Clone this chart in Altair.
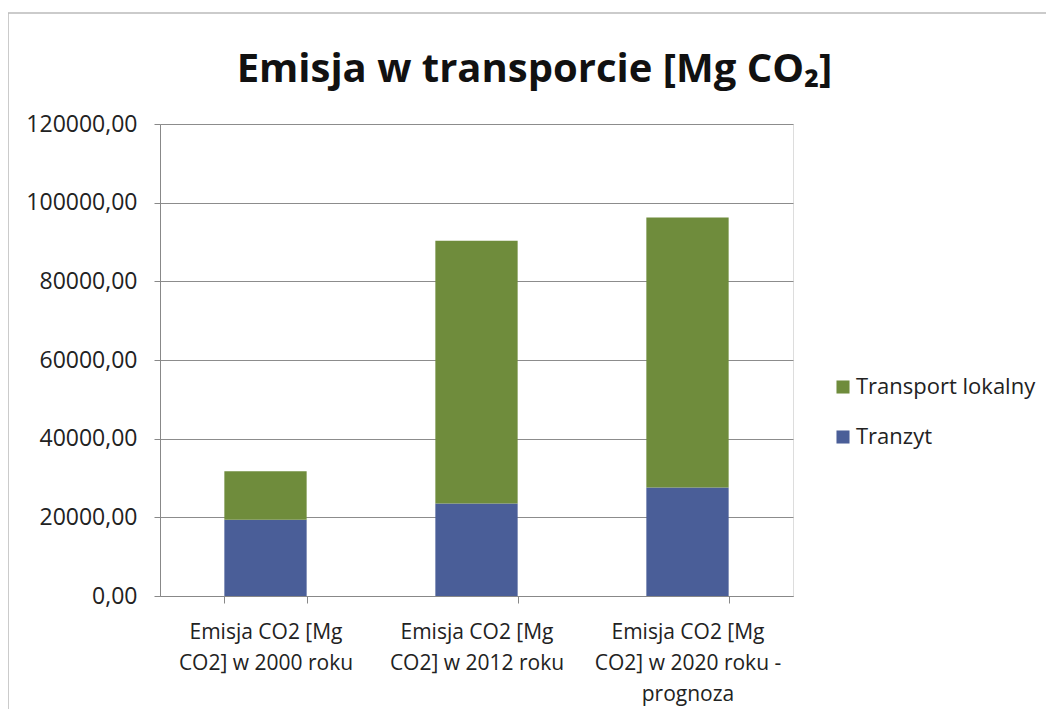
import altair as alt
import pandas as pd

categories = [
    "Emisja CO2 [Mg|CO2] w 2000 roku",
    "Emisja CO2 [Mg|CO2] w 2012 roku",
    "Emisja CO2 [Mg|CO2] w 2020 roku -|prognoza",
]
series = ["Transport lokalny", "Tranzyt"]
tranzyt = [19400, 23500, 27600]
transport_lokalny = [12300, 66800, 68600]
colors = ["#6F8C3C", "#4A5E98"]

rows = []
for c, t, l in zip(categories, tranzyt, transport_lokalny):
    rows.append({"kategoria": c, "seria": "Tranzyt", "wartosc": t, "kol": 0})
    rows.append({"kategoria": c, "seria": "Transport lokalny", "wartosc": l, "kol": 1})
df = pd.DataFrame(rows)

FONT = "Open Sans"
FS = 22

bars = alt.Chart(df).mark_bar().encode(
    x=alt.X(
        "kategoria:N",
        sort=categories,
        scale=alt.Scale(paddingInner=0.61, paddingOuter=0.305),
        axis=alt.Axis(
            title=None,
            labelAngle=0,
            labelExpr="split(datum.label, '|')",
            labelFont=FONT,
            labelFontSize=21,
            labelColor="#222222",
            labelLineHeight=31,
            labelPadding=18,
            labelLimit=0,
            tickBand="extent",
            tickSize=7,
            tickColor="#888888",
            domainColor="#888888",
            grid=False,
        ),
    ),
    y=alt.Y(
        "wartosc:Q",
        stack="zero",
        scale=alt.Scale(domain=[0, 120000], nice=False),
        axis=alt.Axis(
            title=None,
            values=[0, 20000, 40000, 60000, 80000, 100000, 120000],
            labelExpr="replace(format(datum.value, '.2f'), '.', ',')",
            labelFont=FONT,
            labelFontSize=23,
            labelColor="#222222",
            labelPadding=17,
            tickSize=6,
            tickColor="#888888",
            domainColor="#888888",
            gridColor="#8C8C8C",
            gridWidth=1,
        ),
    ),
    color=alt.Color(
        "seria:N",
        scale=alt.Scale(domain=series, range=colors),
        legend=alt.Legend(
            title=None,
            orient="none",
            legendX=672,
            legendY=252,
            symbolType="square",
            symbolSize=170,
            symbolStrokeWidth=0,
            labelFont=FONT,
            labelFontSize=FS,
            labelColor="#222222",
            labelLimit=0,
            rowPadding=28,
            labelOffset=2,
        ),
    ),
    order=alt.Order("kol:Q"),
)

border = alt.Chart(alt.Data(values=[{}])).mark_rect(
    fill=None, stroke="#BBBBBB", strokeWidth=1.5
).encode(
    x=alt.value(-152), x2=alt.value(895), y=alt.value(-111), y2=alt.value(640)
)

chart = alt.layer(bars, border).properties(
    width=633,
    height=472,
    padding={"left": 152, "top": 116, "right": 253, "bottom": 113},
    autosize=alt.AutoSizeParams(type="none"),
    title=alt.TitleParams(
        text="Emisja w transporcie [Mg CO₂]",
        font=FONT,
        fontSize=40,
        fontWeight="bold",
        color="#111111",
        anchor="middle",
        frame="group",
        dx=58,
        dy=120,
        offset=42,
    ),
).configure_view(stroke=None).configure(background="white")

chart.save("out.html", embed_options={"renderer": "svg", "actions": False})
